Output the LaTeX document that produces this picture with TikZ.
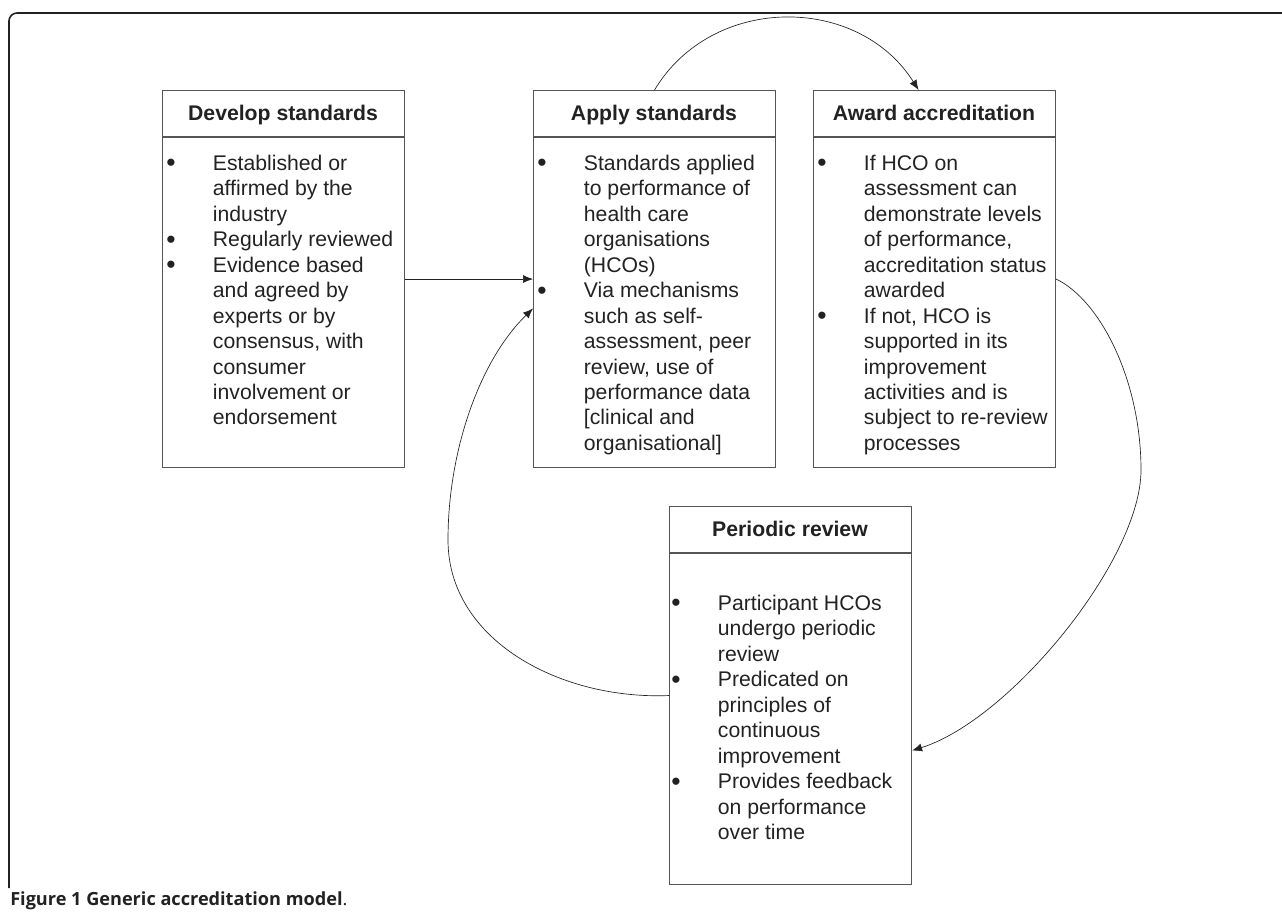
\documentclass[tikz,border=0pt]{standalone}
\usepackage{fontspec}
\setmainfont{Liberation Sans}
\newfontfamily\capfont{Open Sans}
\usetikzlibrary{arrows.meta,calc}
\definecolor{boxline}{HTML}{555555}
\definecolor{ink}{HTML}{222222}
\newlength\bw \setlength\bw{35pt}
\newcommand\bul{\makebox[\bw][l]{\smash{\raisebox{-0.07em}{\scalebox{1.25}{•}}}}}
\newcommand\ind{\hspace*{\bw}}
\begin{document}
\begin{tikzpicture}[x=0.75pt,y=-0.75pt,
  box/.style={draw=boxline,line width=0.8pt,inner sep=0pt,minimum width=181.5pt,anchor=north west},
  head/.style={inner sep=0pt,anchor=base,text=ink,font=\bfseries\fontsize{15.9}{19.1}\selectfont},
  body/.style={inner sep=0pt,anchor=north west,align=left,text=ink,font=\fontsize{15.9}{19.1}\selectfont},
  sep/.style={draw=boxline,line width=0.8pt},
  arr/.style={-{Latex[length=7.5pt,width=6pt]},draw=ink,line width=0.5pt},
  frame/.style={draw=ink,line width=1.2pt,rounded corners=6pt}]
\useasboundingbox (0,0) rectangle (1282,924);
\draw[frame] (9,888) -- (9,13) -- (1300,13);
% boxes
\node[box,minimum height=282.75pt] (dev) at (162,90) {};
\node[box,minimum height=282.75pt] (app) at (533,90) {};
\node[box,minimum height=282.75pt] (awd) at (813,90) {};
\node[box,minimum height=283.5pt] (per) at (669,506) {};
\draw[sep] (162,137) -- (404,137);
\draw[sep] (533,137) -- (775,137);
\draw[sep] (813,137) -- (1055,137);
\draw[sep] (669,553) -- (911,553);
% headers
\node[head] (devh) at (283,121) {Develop standards};
\node[head] (apph) at (654,121) {Apply standards};
\node[head] (awdh) at (934,121) {Award accreditation};
\node[head] (perh) at (790,536) {Periodic review};
% bodies
\node[body] (devb) at (166,152.2) {\strut\bul Established or\\
\ind affirmed by the\\
\ind industry\\
\bul Regularly reviewed\\
\bul Evidence based\\
\ind and agreed by\\
\ind experts or by\\
\ind consensus, with\\
\ind consumer\\
\ind involvement or\\
\ind endorsement};
\node[body] (appb) at (537,152.2) {\strut\bul Standards applied\\
\ind to performance of\\
\ind health care\\
\ind organisations\\
\ind (HCOs)\\
\bul Via mechanisms\\
\ind such as self-\\
\ind assessment, peer\\
\ind review, use of\\
\ind performance data\\
\ind [clinical and\\
\ind organisational]};
\node[body] (awdb) at (817,152.2) {\strut\bul If HCO on\\
\ind assessment can\\
\ind demonstrate levels\\
\ind of performance,\\
\ind accreditation status\\
\ind awarded\\
\bul If not, HCO is\\
\ind supported in its\\
\ind improvement\\
\ind activities and is\\
\ind subject to re-review\\
\ind processes};
\node[body] (perb) at (671,592.2) {\strut\bul Participant HCOs\\
\ind undergo periodic\\
\ind review\\
\bul Predicated on\\
\ind principles of\\
\ind continuous\\
\ind improvement\\
\bul Provides feedback\\
\ind on performance\\
\ind over time};
% connectors
\draw[arr] (dev.east) -- (app.west);
\draw[arr] (app.north) .. controls (712,-6) and (858,-6) .. ($(awd.north)+(-16,0)$);
\draw[arr] (awd.east) .. controls (1100,300) and (1141,380) .. (1141,470)
  .. controls (1141,560) and (1010,720) .. ($(per.east)+(0,55)$);
\draw[arr] (per.west) .. controls (560,700) and (448,640) .. (448,540)
  .. controls (448,450) and (480,360) .. ($(app.west)+(0,29.5)$);
% caption
\node[anchor=base west,inner sep=0pt,text=ink,font=\capfont\bfseries\fontsize{13.6}{16}\selectfont] (cap) at (10,905) {Figure 1 Generic accreditation model\textmd{.}};
\end{tikzpicture}
\end{document}
